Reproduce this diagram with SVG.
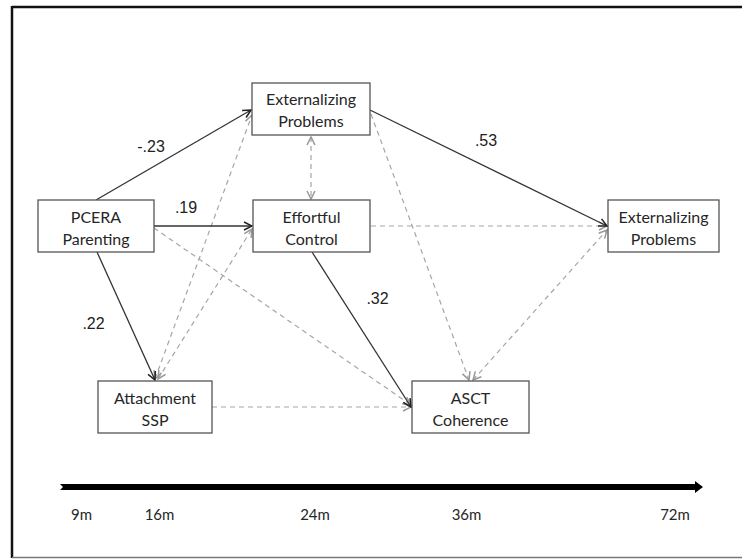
<svg xmlns="http://www.w3.org/2000/svg" width="742" height="559" viewBox="0 0 742 559">
<style>
.box{fill:#fff;stroke:#555;stroke-width:1.3}
.lbl{font-family:Lato,"Open Sans","Liberation Sans",sans-serif;font-size:16px;fill:#262626;text-anchor:middle}
.num{font-family:"Liberation Sans",Arial,sans-serif;font-size:16px;fill:#222;text-anchor:middle}
.tl{font-family:Lato,"Open Sans","Liberation Sans",sans-serif;font-size:15px;fill:#262626;text-anchor:middle}
.solid{stroke:#333;stroke-width:1.3;fill:none}
.dash{stroke:#a6a6a6;stroke-width:1.2;fill:none;stroke-dasharray:5 4}
</style>
<defs>
<marker id="ah" viewBox="0 0 10 10" refX="9" refY="5" markerWidth="10" markerHeight="10" markerUnits="userSpaceOnUse" orient="auto-start-reverse">
<path d="M1,1 L9,5 L1,9" fill="none" stroke="#222" stroke-width="1.5"/>
</marker>
<marker id="ahg" viewBox="0 0 10 10" refX="9" refY="5" markerWidth="10" markerHeight="10" markerUnits="userSpaceOnUse" orient="auto-start-reverse">
<path d="M1,1 L9,5 L1,9" fill="none" stroke="#999" stroke-width="1.5"/>
</marker>
</defs>
<rect width="742" height="559" fill="#fff"/>
<g id="frame">
<line x1="12" y1="7" x2="742" y2="7" stroke="#111" stroke-width="2.5"/>
<line x1="12" y1="6" x2="12" y2="558" stroke="#111" stroke-width="2.5"/>
<line x1="12" y1="557.5" x2="742" y2="557.5" stroke="#777" stroke-width="1.5"/>
</g>
<g id="connectors">
<line class="dash" x1="155" y1="379" x2="252" y2="115" marker-start="url(#ahg)" marker-end="url(#ahg)"/>
<line class="dash" x1="158" y1="379" x2="252" y2="229" marker-start="url(#ahg)" marker-end="url(#ahg)"/>
<line class="dash" x1="311" y1="137" x2="311" y2="199" marker-start="url(#ahg)" marker-end="url(#ahg)"/>
<line class="dash" x1="154" y1="228" x2="411" y2="405" marker-end="url(#ahg)"/>
<line class="dash" x1="371" y1="114" x2="469" y2="380" marker-end="url(#ahg)"/>
<line class="dash" x1="473" y1="380" x2="607" y2="230" marker-start="url(#ahg)" marker-end="url(#ahg)"/>
<line class="dash" x1="371" y1="226" x2="607" y2="226" marker-end="url(#ahg)"/>
<line class="dash" x1="212" y1="407" x2="411" y2="407" marker-end="url(#ahg)"/>
<line class="solid" x1="96" y1="200" x2="251" y2="110" marker-end="url(#ah)"/>
<line class="solid" x1="154" y1="226" x2="252" y2="226" marker-end="url(#ah)"/>
<line class="solid" x1="97" y1="252" x2="155" y2="380" marker-end="url(#ah)"/>
<line class="solid" x1="370" y1="110" x2="607" y2="226" marker-end="url(#ah)"/>
<line class="solid" x1="312" y1="252" x2="411" y2="407" marker-end="url(#ah)"/>
</g>
<g id="ext24">
<rect class="box" x="252" y="83" width="118" height="52"/>
<text class="lbl" x="311" y="105">Externalizing</text>
<text class="lbl" x="311" y="127">Problems</text>
</g>
<g id="pcera">
<rect class="box" x="38" y="200" width="116" height="52"/>
<text class="lbl" x="96" y="223">PCERA</text>
<text class="lbl" x="96" y="245">Parenting</text>
</g>
<g id="effortful">
<rect class="box" x="253" y="200" width="117" height="52"/>
<text class="lbl" x="311.5" y="223">Effortful</text>
<text class="lbl" x="311.5" y="245">Control</text>
</g>
<g id="ext72">
<rect class="box" x="608" y="200" width="111" height="52"/>
<text class="lbl" x="663.5" y="223">Externalizing</text>
<text class="lbl" x="663.5" y="245">Problems</text>
</g>
<g id="attachment">
<rect class="box" x="98" y="381" width="114" height="52"/>
<text class="lbl" x="155" y="404">Attachment</text>
<text class="lbl" x="155" y="426">SSP</text>
</g>
<g id="asct">
<rect class="box" x="412" y="381" width="117" height="52"/>
<text class="lbl" x="470.5" y="404">ASCT</text>
<text class="lbl" x="470.5" y="426">Coherence</text>
</g>
<g id="coefficients">
<text class="num" x="151" y="152">-.23</text>
<text class="num" x="186" y="213">.19</text>
<text class="num" x="93.5" y="329">.22</text>
<text class="num" x="377.5" y="304">.32</text>
<text class="num" x="486" y="146">.53</text>
</g>
<g id="timeline">
<polygon points="60,484 695,484 695,481 703,487 695,493 695,490 60,490 63,487" fill="#000"/>
<text class="tl" x="81.5" y="520">9m</text>
<text class="tl" x="159.5" y="520">16m</text>
<text class="tl" x="315" y="520">24m</text>
<text class="tl" x="466.5" y="520">36m</text>
<text class="tl" x="675" y="520">72m</text>
</g>
</svg>
